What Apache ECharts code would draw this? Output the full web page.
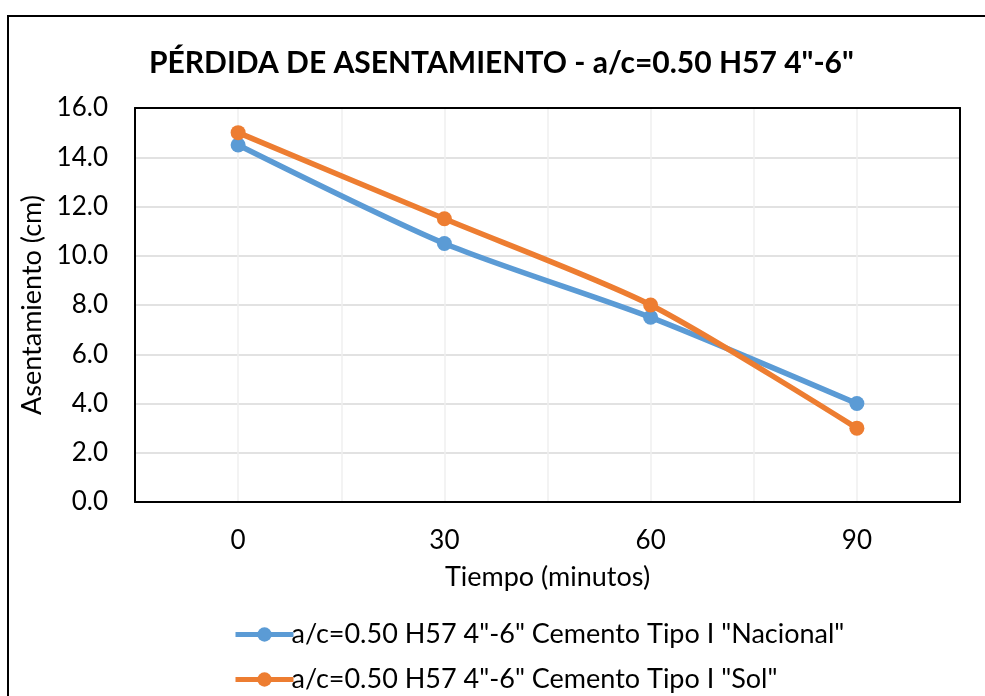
<!DOCTYPE html>
<html>
<head>
<meta charset="utf-8">
<script src="https://cdn.jsdelivr.net/npm/echarts@6/dist/echarts.min.js"></script>
<style>
  html, body { margin: 0; padding: 0; background: #fff; }
  #chart { width: 985px; height: 696px; }
</style>
</head>
<body>
<div id="chart"></div>
<script>
// Tiempo (minutos) and measured slump values
const tiempos = [0, 30, 60, 90];
const nacional = [14.5, 10.5, 7.5, 4.0];
const sol = [15.0, 11.5, 8.0, 3.0];
const seriesNames = [
  'a/c=0.50 H57 4"-6" Cemento Tipo I "Nacional"',
  'a/c=0.50 H57 4"-6" Cemento Tipo I "Sol"'
];
const xTickLabels = ['0', '30', '60', '90'];

const FONT = 'Lato, "Noto Sans", sans-serif';
const chart = echarts.init(document.getElementById('chart'), null, { renderer: 'canvas' });

function pairs(vals) {
  return tiempos.map((t, i) => [t, vals[i]]);
}

// frame axes drawn on the top and right edges of the plot area
const frameAxis = {
  axisLine: { show: true, onZero: false, lineStyle: { color: '#000', width: 2 } },
  axisTick: { show: false },
  axisLabel: { show: false },
  splitLine: { show: false }
};

// one legend row per series, stacked under the x axis
function legendRow(name, top) {
  return {
    orient: 'vertical',
    left: 228,
    top: top,
    itemWidth: 58,
    itemHeight: 18,
    lineStyle: { width: 5 },
    textStyle: { fontFamily: FONT, fontSize: 27, color: '#000', padding: [0, 0, 0, -7] },
    data: [name]
  };
}

chart.setOption({
  animation: false,
  backgroundColor: '#fff',
  graphic: [{
    type: 'rect',
    shape: { x: 8, y: 16, width: 1000, height: 720 },
    style: { fill: 'none', stroke: '#000', lineWidth: 2 },
    silent: true
  }],
  title: {
    text: 'PÉRDIDA DE ASENTAMIENTO - a/c=0.50 H57 4"-6"',
    left: 144,
    top: 43,
    textStyle: { fontFamily: FONT, fontWeight: 'bold', fontSize: 30, color: '#000' }
  },
  grid: {
    left: 135, right: 25, top: 108, bottom: 194, containLabel: false
  },
  xAxis: [{
    type: 'value',
    min: -15, max: 105, interval: 15,
    name: 'Tiempo (minutos)',
    nameLocation: 'middle',
    nameGap: 62,
    nameTextStyle: { fontFamily: FONT, fontSize: 27, color: '#000' },
    axisLine: { show: true, onZero: false, lineStyle: { color: '#000', width: 2 } },
    axisTick: { show: false },
    axisLabel: {
      margin: 26,
      fontFamily: FONT, fontSize: 26, color: '#000',
      formatter: v => {
        const i = tiempos.indexOf(v);
        return i >= 0 ? xTickLabels[i] : '';
      },
      showMinLabel: false, showMaxLabel: false
    },
    splitLine: { show: true, lineStyle: { color: '#efefef', width: 1.5 } }
  }, Object.assign({ type: 'value', position: 'top', min: -15, max: 105 }, frameAxis)],
  yAxis: [{
    type: 'value',
    min: 0, max: 16, interval: 2,
    name: 'Asentamiento (cm)',
    nameLocation: 'middle',
    nameGap: 80,
    nameTextStyle: { fontFamily: FONT, fontSize: 27, color: '#000' },
    axisLine: { show: true, onZero: false, lineStyle: { color: '#000', width: 2 } },
    axisTick: { show: false },
    axisLabel: {
      margin: 27,
      fontFamily: FONT, fontSize: 26, color: '#000',
      formatter: v => v.toFixed(1)
    },
    splitLine: { show: true, lineStyle: { color: '#d9d9d9', width: 1.5 } }
  }, Object.assign({ type: 'value', position: 'right', min: 0, max: 16 }, frameAxis)],
  legend: [legendRow(seriesNames[0], 616), legendRow(seriesNames[1], 661)],
  series: [
    {
      name: seriesNames[0],
      type: 'line',
      data: pairs(nacional),
      smooth: 0.25,
      symbol: 'circle',
      symbolSize: 15,
      color: '#5b9bd5',
      lineStyle: { width: 5.5, color: '#5b9bd5' },
      itemStyle: { color: '#5b9bd5' }
    },
    {
      name: seriesNames[1],
      type: 'line',
      data: pairs(sol),
      smooth: 0.25,
      symbol: 'circle',
      symbolSize: 15,
      color: '#ed7d31',
      lineStyle: { width: 5.5, color: '#ed7d31' },
      itemStyle: { color: '#ed7d31' }
    }
  ]
});
</script>
</body>
</html>
